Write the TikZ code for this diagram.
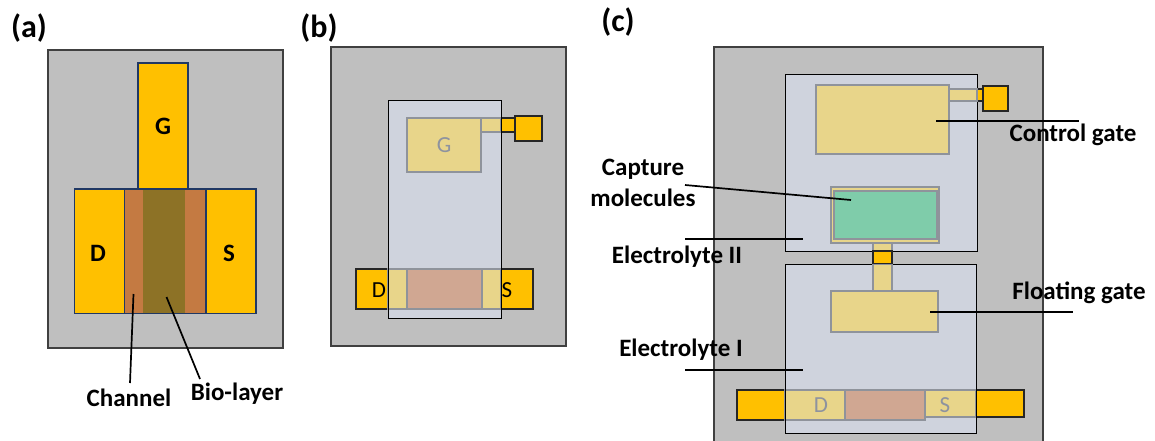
\documentclass[tikz,border=0pt]{standalone}
\usepackage{fontspec}
\setmainfont{Carlito}
\definecolor{sub}{HTML}{BFBFBF}
\definecolor{gold}{HTML}{FFC000}
\definecolor{elec}{HTML}{CFD3DD}
\definecolor{pale}{HTML}{E8D58A}
\definecolor{chanp}{HTML}{D0A792}
\definecolor{chan}{HTML}{C47A42}
\definecolor{bio}{HTML}{8D7226}
\definecolor{mol}{HTML}{7FCCAA}
\definecolor{navy}{HTML}{203864}
\definecolor{palegrey}{HTML}{8E939F}
\definecolor{pedge}{HTML}{8F939B}
\tikzset{
  subbox/.style={fill=sub,draw=black!75,line width=1.3pt},
  goldbox/.style={fill=gold,draw=navy,line width=1.2pt,font=\fontsize{25}{28}\selectfont\bfseries},
  chanbox/.style={fill=chan,draw=navy,line width=1.2pt},
  biobox/.style={fill=bio,draw=none},
  padbox/.style={fill=gold,draw=black!85,line width=1.1pt},
  elecbox/.style={fill=elec,draw=black,line width=1pt},
  palebox/.style={fill=pale,draw=pedge,line width=1.2pt,text=palegrey,font=\fontsize{23}{26}\selectfont},
  chanpale/.style={fill=chanp,draw=pedge,line width=1.2pt},
  molbox/.style={fill=mol,draw=pedge,line width=1.2pt},
  lbl/.style={font=\fontsize{25}{31}\selectfont\bfseries,inner sep=0pt,align=center},
  pan/.style={font=\fontsize{32}{36}\selectfont\bfseries,inner sep=0pt},
  term/.style={font=\fontsize{23}{26}\selectfont,inner sep=0pt},
  termpale/.style={term,text=palegrey},
  leader/.style={draw=black,line width=1.7pt},
}
\newcommand{\rn}[7]{% name, style, x1, y1, x2, y2, text
  \pgfmathsetmacro{\rw}{#5-#3}\pgfmathsetmacro{\rh}{#6-#4}
  \pgfmathsetmacro{\rx}{(#3+#5)/2}\pgfmathsetmacro{\ry}{(#4+#6)/2}
  \node[#2,rectangle,inner sep=0pt,outer sep=0pt,minimum width=\rw pt,minimum height=\rh pt] (#1) at (\rx,\ry) {#7};}
\begin{document}
\begin{tikzpicture}[x=1pt,y=-1pt]
\useasboundingbox (0,0) rectangle (1155,441);
% panel (a)
\node[pan] (pa) at (29,28) {(a)};
\rn{asub}{subbox}{48}{50}{283}{348}{}
\rn{ag}{goldbox}{138}{63}{188}{189}{G}
\rn{ad}{goldbox}{74.5}{189}{124.5}{313.5}{}
\rn{as}{goldbox}{206}{189}{256}{313.5}{}
\rn{ach}{chanbox}{124.5}{189}{206}{313.5}{}
\rn{abio}{biobox}{142.5}{190}{184.5}{313}{}
\node[font=\fontsize{25}{28}\selectfont\bfseries,inner sep=0pt] (adl) at (98,253) {D};
\node[font=\fontsize{25}{28}\selectfont\bfseries,inner sep=0pt] (asl) at (229,253) {S};
\coordinate (c1a) at (133.5,294); \coordinate (c1b) at (130,383);
\coordinate (c2a) at (166.5,297); \coordinate (c2b) at (200,379);
\draw[leader] (c1a) -- (c1b);
\draw[leader] (c2a) -- (c2b);
\node[lbl] (lch) at (129,398) {Channel};
\node[lbl] (lbi) at (237,394) {Bio-layer};
% panel (b)
\node[pan] (pb) at (319,28) {(b)};
\rn{bsub}{subbox}{331}{47}{566}{346}{}
\rn{bd}{padbox}{356}{269}{420}{309}{}
\rn{bs}{padbox}{470}{269}{533}{309}{}
\rn{bstub}{padbox}{490}{118}{515}{132}{}
\rn{bpad}{padbox}{515}{116}{542}{141}{}
\rn{bel}{elecbox}{388}{101}{501}{318}{}
\rn{bgs}{palebox}{481}{118}{501}{132}{}
\rn{bg}{palebox}{407}{118}{481}{172}{G}
\rn{bdp}{palebox}{388}{269}{407}{309}{}
\rn{bsp}{palebox}{482}{269}{501}{309}{}
\rn{bch}{chanpale}{407}{269}{482}{309}{}
\draw[black,line width=1pt] (388,101) -- (388,318) (501,101) -- (501,318);
\node[term] (bdl) at (379,290) {D};
\node[term] (bsl) at (507,290) {S};
% panel (c)
\node[pan] (pc) at (618,22) {(c)};
\fill[sub] (714,47) rectangle (1043,441);
\draw[black!75,line width=1.3pt] (714,441) -- (714,47) -- (1043,47) -- (1043,441);
\coordinate (csub) at (714,47);
\rn{cstub}{padbox}{970}{89}{983}{101}{}
\rn{cpad}{padbox}{983}{86}{1008}{111}{}
\rn{ceii}{elecbox}{785}{75}{977}{251}{}
\rn{cstubp}{palebox}{949}{89}{977}{101}{}
\rn{ccg}{palebox}{816}{85}{949}{154}{}
\rn{cstem}{palebox}{873}{243}{892}{291}{}
\rn{cmid}{padbox}{873}{251}{892}{264}{}
\rn{cei}{elecbox}{785}{264}{976}{433}{}
\rn{cstemb}{palebox}{873}{264.5}{892}{291}{}
\rn{cfg}{palebox}{831}{291}{938}{332}{}
\rn{ccapo}{palebox}{831}{187}{939}{243}{}
\rn{ccap}{molbox}{834}{191}{937}{239}{}
\rn{cdo}{padbox}{737}{390}{785}{420}{}
\rn{cso}{padbox}{976}{390}{1024}{417}{}
\rn{cdp}{palebox}{785}{390}{845}{420}{}
\rn{csp}{palebox}{925}{390}{976}{417}{}
\rn{cch}{chanpale}{845}{390}{925}{420}{}
\node[termpale] (cdl) at (821,405) {D};
\node[termpale] (csl) at (945,405) {S};
\draw[black,line width=1pt] (785,264) -- (785,433) (976,264) -- (976,433);
\coordinate (l1a) at (936,121); \coordinate (l1b) at (1079,121);
\coordinate (l2a) at (685,185); \coordinate (l2b) at (851,200);
\coordinate (l3a) at (685,239); \coordinate (l3b) at (803,239);
\coordinate (l4a) at (685,370); \coordinate (l4b) at (803,370);
\coordinate (l5a) at (930,312); \coordinate (l5b) at (1073,312);
\draw[leader,line width=2.4pt] (l1a) -- (l1b);
\draw[leader] (l2a) -- (l2b);
\draw[leader] (l3a) -- (l3b);
\draw[leader] (l4a) -- (l4b);
\draw[leader] (l5a) -- (l5b);
\node[lbl] (lcg) at (1073,135) {Control gate};
\node[lbl] (lcm) at (643,183) {Capture\\molecules};
\node[lbl] (le2) at (677,257) {Electrolyte II};
\node[lbl] (le1) at (681,350) {Electrolyte I};
\node[lbl] (lfg) at (1079,293) {Floating gate};
\end{tikzpicture}
\end{document}
